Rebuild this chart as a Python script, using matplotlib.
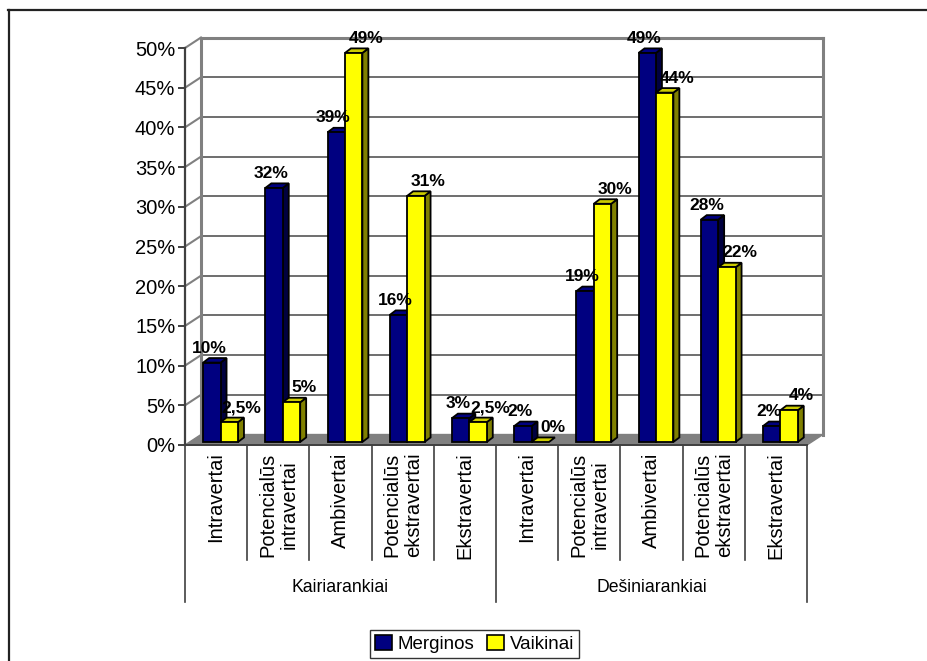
import numpy as np
import matplotlib.pyplot as plt
from matplotlib.patches import Polygon, Patch
from matplotlib.lines import Line2D

plt.rcParams["font.family"] = ["Liberation Sans", "DejaVu Sans"]

# ================================
# DATA
# ================================
groups = ["Kairiarankiai", "Dešiniarankiai"]
categories = ["Intravertai", "Potencialūs\nintravertai", "Ambivertai",
              "Potencialūs\nekstravertai", "Ekstravertai"]
series_names = ["Merginos", "Vaikinai"]

merginos = [10, 32, 39, 16, 3, 2, 19, 49, 28, 2]
vaikinai = [2.5, 5, 49, 31, 2.5, 0, 30, 44, 22, 4]

yticks = [0, 5, 10, 15, 20, 25, 30, 35, 40, 45, 50]

# ================================
# STYLE / 3D GEOMETRY (data units)
# ================================
W_DX, W_DY = 0.257, 1.32      # wall depth
B_DX, B_DY = 0.096, 0.57      # bar depth
F_DX, F_DY = 0.072, 0.38      # bar front plane offset
BAR_W = 0.28

colors = {
    "Merginos": ("#000080", "#000080", "#000040"),   # front, top, side
    "Vaikinai": ("#FFFF00", "#CCCC00", "#808000"),
}

fig = plt.figure(figsize=(9.27, 6.61), dpi=100)
ax = fig.add_axes([185 / 927, 1 - 445 / 661, 622 / 927, 397 / 661])
ax.set_xlim(0, 10)
ax.set_ylim(0, 50)
ax.patch.set_visible(False)
for s in ["top", "right"]:
    ax.spines[s].set_visible(False)
ax.spines["left"].set_color("#404040")
ax.spines["left"].set_linewidth(1.6)
ax.spines["bottom"].set_color("#404040")
ax.spines["bottom"].set_linewidth(1.4)

# floor
ax.add_patch(Polygon([(0, 0), (10, 0), (10 + W_DX, W_DY), (W_DX, W_DY)],
                     closed=True, facecolor="#808080", edgecolor="#808080",
                     lw=1, zorder=1, clip_on=False))

# back wall grid + left wall diagonals
for v in yticks[1:-1]:
    ax.plot([W_DX, 10 + W_DX], [v + W_DY, v + W_DY], color="#555555",
            lw=1.2, zorder=0.5, clip_on=False)
for v in yticks[1:]:
    ax.plot([0, W_DX], [v, v + W_DY], color="#808080", lw=1.5,
            zorder=0.5, clip_on=False)
ax.plot([W_DX, 10 + W_DX], [50 + W_DY, 50 + W_DY], color="#808080",
        lw=2.2, zorder=0.6, clip_on=False)
ax.plot([W_DX, W_DX], [W_DY, 50 + W_DY], color="#808080", lw=2.2,
        zorder=0.6, clip_on=False)
ax.plot([10 + W_DX, 10 + W_DX], [W_DY, 50 + W_DY], color="#808080",
        lw=2.2, zorder=0.6, clip_on=False)


def draw_bar(x0, v, name):
    front, top, side = colors[name]
    b = F_DY
    t = v + F_DY
    side_poly = [(x0 + BAR_W, b), (x0 + BAR_W, t),
                 (x0 + BAR_W + B_DX, t + B_DY), (x0 + BAR_W + B_DX, b + B_DY)]
    top_poly = [(x0, t), (x0 + BAR_W, t),
                (x0 + BAR_W + B_DX, t + B_DY), (x0 + B_DX, t + B_DY)]
    if v > 0:
        ax.add_patch(Polygon(side_poly, closed=True, facecolor=side,
                             edgecolor="black", lw=1.3, zorder=3, clip_on=False))
    ax.add_patch(Polygon(top_poly, closed=True, facecolor=top,
                         edgecolor="black", lw=1.3, zorder=3, clip_on=False))
    if v > 0:
        ax.bar(x0, v, width=BAR_W, bottom=b, align="edge", color=front,
               edgecolor="black", lw=1.3, zorder=3, clip_on=False)


def fmt(v):
    s = f"{v:g}%"
    return s.replace(".", ",")


for i, (m, y) in enumerate(zip(merginos, vaikinai)):
    c = i + 0.5 + F_DX
    draw_bar(c - BAR_W, m, "Merginos")
    draw_bar(c, y, "Vaikinai")
    ax.annotate(fmt(m), (c - BAR_W / 2, m + F_DY + B_DY),
                xytext=(-2, 4), textcoords="offset points", ha="center",
                va="baseline", fontsize=12.5, fontweight="bold", zorder=5)
    ax.annotate(fmt(y), (c + BAR_W / 2, y + F_DY + B_DY),
                xytext=(9, 4), textcoords="offset points", ha="center",
                va="baseline", fontsize=12.5, fontweight="bold", zorder=5)

# y axis
ax.set_yticks(yticks)
ax.set_yticklabels([f"{v}%" for v in yticks], fontsize=14.5)
ax.tick_params(axis="y", direction="out", length=5, width=1.4,
               color="#404040", pad=2)
ax.set_xticks([])

# category table
for k in range(11):
    low = -19.8 if k in (0, 5, 10) else -14.5
    ax.plot([k, k], [0, low], color="#404040", lw=1.2, clip_on=False)
for i in range(10):
    ax.text(i + 0.5, -0.95, categories[i % 5], rotation=90, ha="center",
            va="top", fontsize=14.5, multialignment="center",
            linespacing=1.15)
for g, name in enumerate(groups):
    ax.text(g * 5 + 2.5, -18.0, name, ha="center", va="center", fontsize=12.7)

# legend
handles = [Patch(facecolor=colors[n][0], edgecolor="black", lw=1.2, label=n)
           for n in series_names]
leg = fig.legend(handles=handles, loc="center", bbox_to_anchor=(0.512, 0.026),
                 ncol=2, fontsize=13.5, frameon=True, fancybox=False,
                 handlelength=0.9, handleheight=0.9, handletextpad=0.3,
                 columnspacing=0.7, borderpad=0.25, borderaxespad=0)
leg.get_frame().set_edgecolor("black")
leg.get_frame().set_linewidth(1.0)

# outer chart frame
fig.add_artist(Line2D([8.5 / 927, 8.5 / 927], [0, 1 - 10 / 661],
                      color="#222222", lw=1.6))
fig.add_artist(Line2D([8 / 927, 1], [1 - 10 / 661, 1 - 10 / 661],
                      color="#222222", lw=1.6))

fig.savefig("out.png", dpi=100)
